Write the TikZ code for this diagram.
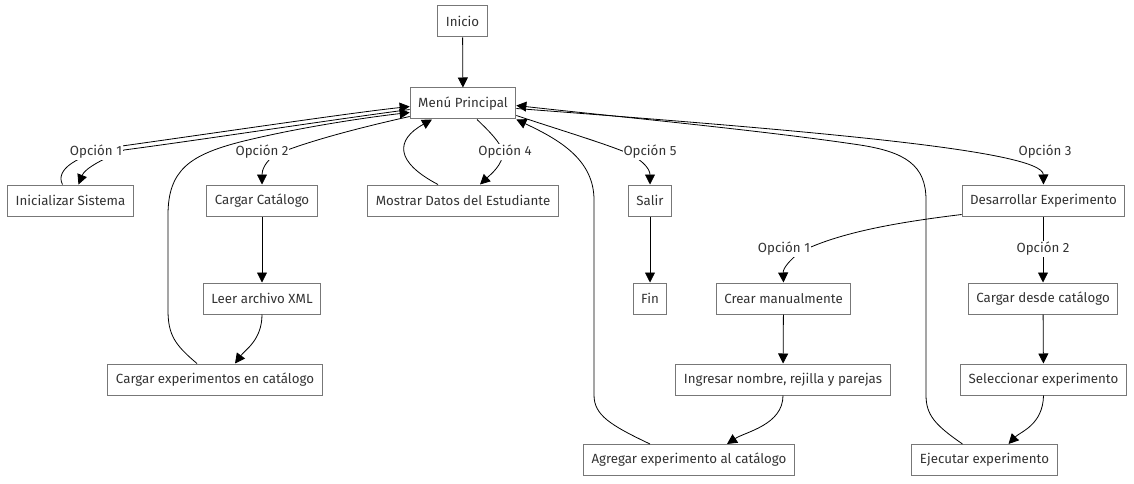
\documentclass[tikz,border=0pt]{standalone}
\usepackage{fontspec}
\setmainfont{Fira Sans}
\usetikzlibrary{calc,arrows.meta}
\definecolor{txt}{HTML}{333333}
\definecolor{bord}{HTML}{777777}
\tikzset{
  box/.style={draw=bord, line width=1pt, fill=white, text=txt, minimum height=31pt, inner xsep=8pt, font=\fontsize{13.3pt}{15pt}\selectfont},
  lbl/.style={fill=white, text=txt, inner sep=1pt, font=\fontsize{13.3pt}{15pt}\selectfont},
  edge/.style={draw=black, line width=0.8pt},
  arr/.style={edge, -{Triangle[length=10pt,width=10pt]}},
}
\begin{document}
\begin{tikzpicture}[x=1pt,y=-1pt]
\useasboundingbox (0,0) rectangle (1134,484);
% nodes
\node[box] (ini) at (462.5,21.5) {Inicio};
\node[box] (menu) at (463,103.5) {Menú Principal};
\node[box] (isis) at (70.5,200.5) {Inicializar Sistema};
\node[box] (ccat) at (262,200.5) {Cargar Catálogo};
\node[box] (most) at (463,200.5) {Mostrar Datos del Estudiante};
\node[box] (salir) at (650,200.5) {Salir};
\node[box] (desa) at (1043.5,200.5) {Desarrollar Experimento};
\node[box] (xml) at (262,298.5) {Leer archivo XML};
\node[box] (fin) at (650,298.5) {Fin};
\node[box] (crear) at (783.5,298.5) {Crear manualmente};
\node[box] (cdesde) at (1043,298.5) {Cargar desde catálogo};
\node[box] (cexp) at (215,379.5) {Cargar experimentos en catálogo};
\node[box] (ingr) at (783,379.5) {Ingresar nombre, rejilla y parejas};
\node[box] (selec) at (1043.5,379.5) {Seleccionar experimento};
\node[box] (agre) at (689,460) {Agregar experimento al catálogo};
\node[box] (ejec) at (984.5,460) {Ejecutar experimento};
% edges
\draw[arr] (ini) -- (menu);
% Menu -> Inicializar (Opcion 1)
\draw[arr] ($(menu.west)+(0,6)$) .. controls (330,120) and (200,140) .. (124,150)
   .. controls (105,158) and (85,168) .. ($(isis.north)+(8,0)$);
% Inicializar -> Menu
\draw[arr] ($(isis.north)+(-8,0)$) .. controls (55,170) and (75,155) .. (122,146)
   .. controls (250,128) and (350,113) .. ($(menu.west)+(0,3)$);
% Menu -> Cargar Catalogo (Opcion 2)
\draw[arr] ($(menu.west)+(0,13)$) .. controls (340,132) and (295,146) .. (275,155)
   .. controls (265,162) and (262,170) .. (ccat.north);
% Cargar experimentos -> Menu
\draw[arr] ($(cexp.north)+(-18,0)$) .. controls (175,345) and (168,335) .. (168,310) -- (168,215)
   .. controls (168,170) and (190,155) .. (240,142)
   .. controls (300,127) and (370,117) .. ($(menu.west)+(0,9)$);
% Menu -> Mostrar (Opcion 4)
\draw[arr] ($(menu.south)+(14,0)$) .. controls (490,132) and (500,142) .. (503,152)
   .. controls (503,165) and (490,175) .. ($(most.north)+(17,0)$);
% Mostrar -> Menu
\draw[arr] ($(most.north)+(-25,0)$) .. controls (395,162) and (395,140) .. ($(menu.south)+(-31,0)$);
% Menu -> Salir (Opcion 5)
\draw[arr] ($(menu.east)+(0,12)$) .. controls (560,130) and (600,142) .. (625,152)
   .. controls (640,158) and (650,168) .. (salir.north);
% Agregar -> Menu
\draw[arr] ($(agre.north)+(-39,0)$) .. controls (610,425) and (594,415) .. (594,395) -- (594,200)
   .. controls (594,160) and (560,140) .. (menu.south east);
% Menu -> Desarrollar (Opcion 3)
\draw[arr] ($(menu.east)+(0,5)$) .. controls (800,130) and (1043,150) .. (desa.north);
% Ejecutar -> Menu
\draw[arr] ($(ejec.north)+(-22,0)$) .. controls (935,425) and (926,415) .. (926,395) -- (926,200)
   .. controls (926,165) and (905,152) .. (860,145)
   .. controls (760,130) and (600,115) .. ($(menu.east)+(0,2)$);
% Desarrollar -> Crear (Opcion 1)
\draw[arr] ($(desa.south west)+(0,-2)$) .. controls (900,222) and (840,232) .. (800,252)
   .. controls (790,260) and (783,268) .. (crear.north);
% Desarrollar -> Cargar desde (Opcion 2)
\draw[arr] (desa.south -| cdesde) -- (cdesde.north);
\draw[arr] (ccat) -- (xml);
\draw[arr] (xml.south) .. controls (262,340) and (245,350) .. ($(cexp.north)+(20,0)$);
\draw[arr] (salir) -- (fin);
\draw[arr] (crear) -- (ingr);
\draw[arr] (ingr.south) .. controls (783,425) and (745,432) .. ($(agre.north)+(38,0)$);
\draw[arr] (cdesde) -- (selec);
\draw[arr] (selec.south) .. controls (1043,425) and (1020,432) .. ($(ejec.north)+(24,0)$);
% labels
\node[lbl] (l1) at (96,152) {Opción 1};
\node[lbl] (l2) at (262,152) {Opción 2};
\node[lbl] (l4) at (505,152) {Opción 4};
\node[lbl] (l5) at (650,152) {Opción 5};
\node[lbl] (l3) at (1045,152) {Opción 3};
\node[lbl] (l6) at (784,249) {Opción 1};
\node[lbl] (l7) at (1043,249) {Opción 2};
\end{tikzpicture}
\end{document}
